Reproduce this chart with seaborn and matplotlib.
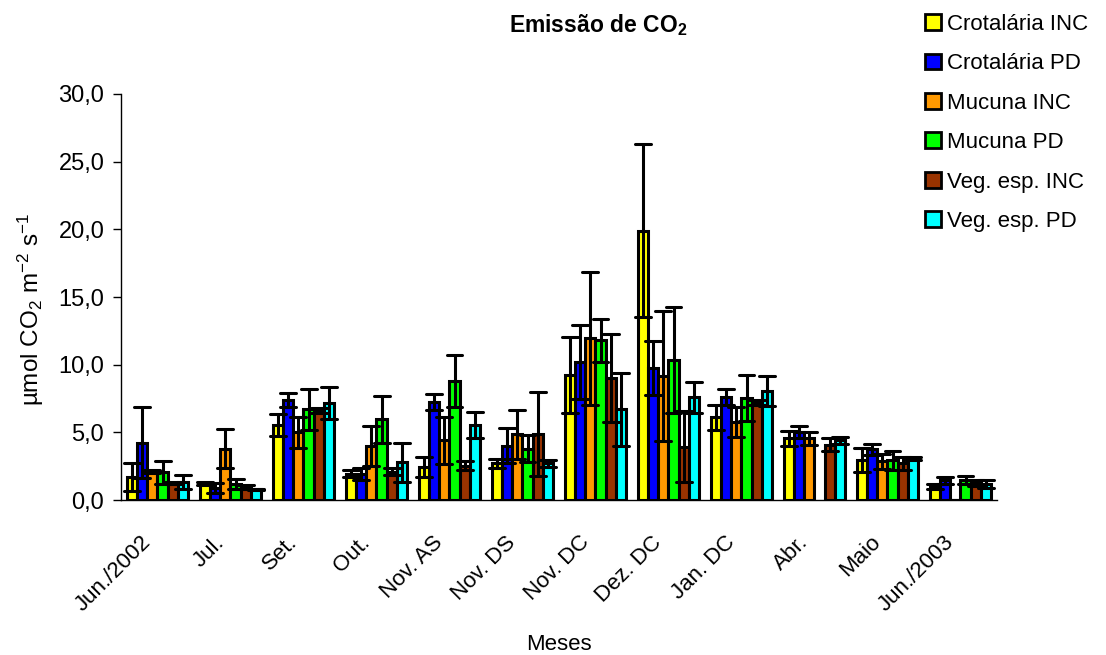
import numpy as np
import pandas as pd
import matplotlib
matplotlib.use("Agg")
import matplotlib.pyplot as plt
import matplotlib.transforms as mtransforms
import seaborn as sns
from matplotlib.patches import Patch
from matplotlib.ticker import FuncFormatter, FixedLocator

# Months of sampling
meses = ["Jun./2002", "Jul.", "Set.", "Out.", "Nov. AS", "Nov. DS", "Nov. DC",
         "Dez. DC", "Jan. DC", "Abr.", "Maio", "Jun./2003"]

tratamentos = ["Crotalária INC", "Crotalária PD", "Mucuna INC", "Mucuna PD",
               "Veg. esp. INC", "Veg. esp. PD"]

# Mean CO2 emission (µmol CO2 m-2 s-1) per treatment
crot_inc = [1.7, 1.2, 5.55, 1.95, 2.45, 2.7, 9.25, 19.9, 6.1, 4.55, 2.95, 1.0]
crot_pd = [4.25, 0.9, 7.4, 1.95, 7.25, 4.0, 10.2, 9.75, 7.6, 5.0, 3.75, 1.45]
muc_inc = [2.1, 3.8, 5.0, 4.0, 4.4, 4.85, 11.95, 9.15, 5.75, 4.55, 2.85, 0.0]
muc_pd = [2.05, 1.2, 6.7, 5.95, 8.8, 3.8, 11.8, 10.35, 7.55, np.nan, 2.95, 1.45]
veg_inc = [1.25, 0.95, 6.6, 2.1, 2.55, 4.85, 9.0, 3.95, 7.2, 4.1, 2.7, 1.25]
veg_pd = [1.35, 0.8, 7.15, 2.8, 5.55, 2.7, 6.7, 7.6, 8.05, 4.4, 3.05, 1.2]

# Standard deviation of each mean
crot_inc_dp = [1.05, 0.1, 0.8, 0.25, 0.75, 0.3, 2.8, 6.4, 0.9, 0.55, 0.9, 0.15]
crot_pd_dp = [2.6, 0.35, 0.5, 0.45, 0.6, 1.3, 2.7, 2.0, 0.6, 0.45, 0.4, 0.25]
muc_inc_dp = [0.1, 1.45, 1.15, 1.5, 1.75, 1.8, 4.9, 4.8, 1.1, 0.45, 0.55, 0.0]
muc_pd_dp = [0.85, 0.35, 1.5, 1.7, 1.9, 1.0, 1.6, 3.9, 1.7, np.nan, 0.7, 0.3]
veg_inc_dp = [0.1, 0.15, 0.2, 0.25, 0.3, 3.1, 3.25, 2.6, 0.2, 0.5, 0.45, 0.25]
veg_pd_dp = [0.5, 0.05, 1.2, 1.45, 0.95, 0.25, 2.7, 1.15, 1.1, 0.25, 0.1, 0.3]

cores = ["#FFFF00", "#0000FF", "#FF9900", "#00FF00", "#993300", "#00FFFF"]

medias = [crot_inc, crot_pd, muc_inc, muc_pd, veg_inc, veg_pd]
desvios = [crot_inc_dp, crot_pd_dp, muc_inc_dp, muc_pd_dp, veg_inc_dp, veg_pd_dp]

# Long table: each cell holds mean - sd and mean + sd, so the bar is the
# mean and the interval spans exactly one standard deviation each side.
linhas = []
for trat, vals, dps in zip(tratamentos, medias, desvios):
    for mes, v, d in zip(meses, vals, dps):
        if np.isnan(v):
            continue
        linhas.append({"mes": mes, "tratamento": trat, "valor": v - d})
        linhas.append({"mes": mes, "tratamento": trat, "valor": v + d})
df = pd.DataFrame(linhas)

sns.set_theme(style="white")
plt.rcParams["font.family"] = ["Liberation Sans", "DejaVu Sans"]
plt.rcParams["mathtext.fontset"] = "custom"
plt.rcParams["mathtext.rm"] = "Liberation Sans"
plt.rcParams["mathtext.it"] = "Liberation Sans:italic"
plt.rcParams["mathtext.bf"] = "Liberation Sans:bold"
for k in ["text.color", "axes.labelcolor", "xtick.color", "ytick.color"]:
    plt.rcParams[k] = "black"

FS = 16

fig = plt.figure(figsize=(11.06, 6.55), dpi=100)
ax = fig.add_axes([0.1094, 0.2366, 0.7920, 0.6199])

sns.barplot(data=df, x="mes", y="valor", hue="tratamento",
            order=meses, hue_order=tratamentos, palette=cores,
            estimator="mean", errorbar=lambda v: (v.min(), v.max()),
            capsize=1.3, err_kws={"color": "black", "linewidth": 2.2},
            edgecolor="black", linewidth=2.2, width=0.84, saturation=1,
            legend=False, ax=ax)

ax.set_xlim(-0.5, len(meses) - 0.5)
ax.set_ylim(0, 30)
ax.set_yticks(np.arange(0, 30.1, 5))
ax.yaxis.set_major_formatter(FuncFormatter(lambda y, _: f"{y:.1f}".replace(".", ",")))
ax.xaxis.set_minor_locator(FixedLocator(np.arange(-0.5, len(meses), 1)))
ax.tick_params(axis="x", which="major", length=0, labelsize=FS, pad=23)
ax.tick_params(axis="x", which="minor", length=6, width=1, color="black", direction="out")
ax.tick_params(axis="y", length=6, width=1, color="black", direction="out",
               labelsize=17, left=True, pad=6)

# Month labels slanted, ending just left of the centre of each group
shift = mtransforms.ScaledTranslation(-17 / 100, 0, fig.dpi_scale_trans)
for lab in ax.get_xticklabels():
    lab.set_rotation(45)
    lab.set_ha("right")
    lab.set_va("top")
    lab.set_rotation_mode("anchor")
    lab.set_transform(lab.get_transform() + shift)

for s in ["top", "right"]:
    ax.spines[s].set_visible(False)
for s in ["left", "bottom"]:
    ax.spines[s].set_color("black")
    ax.spines[s].set_linewidth(1)

ax.set_xlabel("Meses", fontsize=FS)
ax.xaxis.set_label_coords(0.5, -0.33)
ax.set_ylabel(r"µmol CO$_2$ m$^{-2}$ s$^{-1}$", fontsize=17.5)
ax.yaxis.set_label_coords(-0.086, 0.47)

fig.text(0.541, 0.962, r"Emissão de CO$_\mathbf{2}$", ha="center", va="center",
         fontsize=16.5, fontweight="bold")

handles = [Patch(facecolor=c, edgecolor="black", linewidth=2, label=t)
           for c, t in zip(cores, tratamentos)]
fig.legend(handles=handles, loc="upper left", bbox_to_anchor=(0.836, 0.979),
           frameon=False, fontsize=FS, handlelength=0.72, handleheight=0.72,
           handletextpad=0.3, labelspacing=0.83, borderaxespad=0, borderpad=0)

fig.savefig("out.png", dpi=100)
